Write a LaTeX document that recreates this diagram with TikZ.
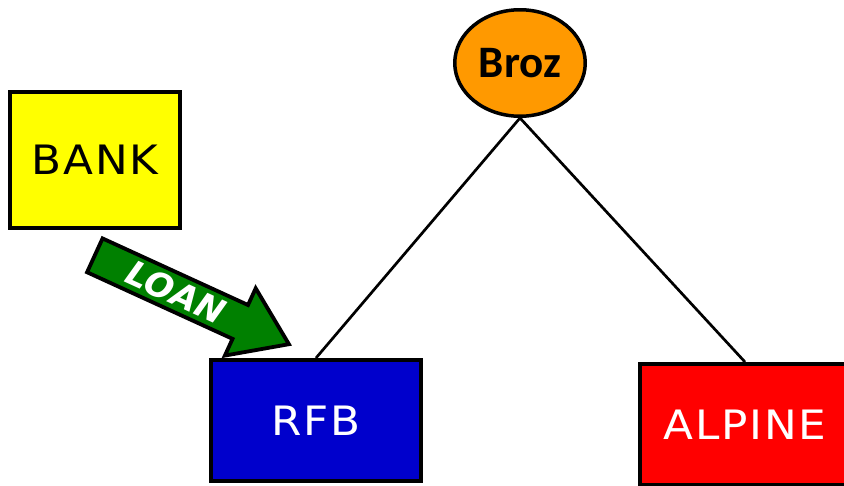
\documentclass[tikz,border=0pt]{standalone}
\usepackage{fontspec}
\usetikzlibrary{positioning, shapes.geometric}

\newfontfamily\boxfont[LetterSpace=4, FakeStretch=1.08]{DejaVu Sans}
\newfontfamily\brozfont{Carlito}
\newfontfamily\loanfont{DejaVu Sans}

\definecolor{bankyellow}{HTML}{FFFF00}
\definecolor{brozorange}{HTML}{FF9900}
\definecolor{rfbblue}{HTML}{0000CC}
\definecolor{alpinered}{HTML}{FF0000}
\definecolor{loangreen}{HTML}{008000}

\begin{document}
\begin{tikzpicture}[
            x = 1pt, y = 1pt,
            on grid,
            line width = 2.7pt
        ]

        \tikzstyle{company}=[
            draw = black,
            line width = 4pt,
            rectangle,
            inner sep = 0pt,
            minimum width = 210pt,
            minimum height = 121pt,
            font = \boxfont\fontsize{40.5}{48}\selectfont
        ]
        \tikzstyle{owner}=[
            draw = black,
            line width = 3.5pt,
            ellipse,
            inner sep = 0pt,
            fill = brozorange,
            minimum width = 130.5pt,
            minimum height = 106.5pt,
            font = \brozfont\bfseries\fontsize{45}{54}\selectfont
        ]
        %\tikzset{every node/.append style={font=\large}}

        \useasboundingbox (0,0) rectangle (844,-485);

        \node[owner] (broz) at (520,-63) {Broz};
        \node[company, fill = rfbblue, text = white] (rfb) [below left=357.5pt and 204pt of broz] {RFB};
        \node[company, fill = bankyellow, minimum width = 170pt, minimum height = 136pt] (bank) [above left=260.5pt and 221pt of rfb] {BANK};
        \node[company, fill = alpinered, text = white] (alpine) [below right=361.5pt and 225pt of broz] {ALPINE};

        \draw (broz.south) -- (rfb.north);
        \draw (broz.south) -- (alpine.north);

        % loan arrow
        \begin{scope}[shift = {(93,-254.5)}, rotate = -24.6]
            \draw[fill = loangreen, line width = 3.8pt, miter limit = 4]
                (2,18.6) -- (162,18.6) -- (162,37) -- (215.5,0)
                -- (162,-37) -- (162,-18.6) -- (2,-18.6) -- cycle;
            \node[text = white, transform shape, font = \loanfont\bfseries\itshape\fontsize{34}{40}\selectfont] (loan) at (91,0) {LOAN};
        \end{scope}

    \end{tikzpicture}
\end{document}
